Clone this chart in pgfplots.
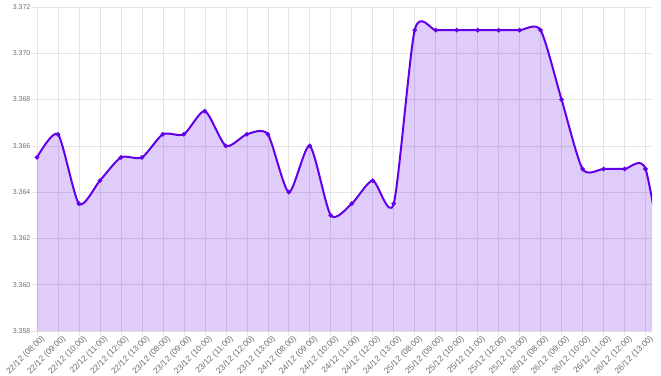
\documentclass[border=0pt]{standalone}
\usepackage{pgfplots}
\pgfplotsset{compat=1.18}
\usepackage{fontspec}
\setmainfont{Liberation Sans}
\definecolor{lineC}{RGB}{98,0,234}
\definecolor{gridC}{RGB}{228,228,228}
\definecolor{labC}{RGB}{110,110,110}
\begin{document}
\begin{tikzpicture}
\begin{axis}[
  scale only axis,
  width=615bp, height=324bp,
  xmin=0, xmax=29.31,
  ymin=3.358, ymax=3.372,
  ytick={3.358,3.360,3.362,3.364,3.366,3.368,3.370,3.372},
  yticklabel style={/pgf/number format/fixed,/pgf/number format/fixed zerofill,/pgf/number format/precision=3,font=\fontsize{7}{8}\selectfont,text=labC,inner sep=1.5bp},
  /pgf/number format/assume math mode=true,
  scaled y ticks=false,
  xtick={0,...,29},
  xticklabels={{22/12 (08:00)},{22/12 (09:00)},{22/12 (10:00)},{22/12 (11:00)},{22/12 (12:00)},{22/12 (13:00)},
    {23/12 (08:00)},{23/12 (09:00)},{23/12 (10:00)},{23/12 (11:00)},{23/12 (12:00)},{23/12 (13:00)},
    {24/12 (08:00)},{24/12 (09:00)},{24/12 (10:00)},{24/12 (11:00)},{24/12 (12:00)},{24/12 (13:00)},
    {25/12 (08:00)},{25/12 (09:00)},{25/12 (10:00)},{25/12 (11:00)},{25/12 (12:00)},{25/12 (13:00)},
    {26/12 (08:00)},{26/12 (09:00)},{26/12 (10:00)},{26/12 (11:00)},{26/12 (12:00)},{26/12 (13:00)}},
  xticklabel style={rotate=45,anchor=north east,font=\fontsize{8.4}{9}\selectfont,text=labC,inner sep=0.5bp,xshift=4bp,yshift=-1bp},
  grid=major,
  grid style={gridC,line width=0.6pt},
  axis x line*=bottom, axis y line*=left,
  axis line style={gridC,line width=0.8pt,-},
  tick align=outside,
  major tick length=5bp,
  tick style={gridC,line width=0.6pt},
  clip=true,
]
\addplot[draw=none,fill=lineC,fill opacity=0.2,smooth,tension=0.42] coordinates {
(0,3.3655)(1,3.3665)(2,3.3635)(3,3.3645)(4,3.3655)(5,3.3655)
(6,3.3665)(7,3.3665)(8,3.3675)(9,3.3660)(10,3.3665)(11,3.3665)
(12,3.3640)(13,3.3660)(14,3.3630)(15,3.3635)(16,3.3645)(17,3.3635)
(18,3.3710)(19,3.3710)(20,3.3710)(21,3.3710)(22,3.3710)(23,3.3710)
(24,3.3710)(25,3.3680)(26,3.3650)(27,3.3650)(28,3.3650)(29,3.3650)
(30,3.3600)} \closedcycle;
\addplot[lineC,line width=2bp,smooth,tension=0.42,mark=*,mark size=1.1pt,mark options={lineC}] coordinates {
(0,3.3655)(1,3.3665)(2,3.3635)(3,3.3645)(4,3.3655)(5,3.3655)
(6,3.3665)(7,3.3665)(8,3.3675)(9,3.3660)(10,3.3665)(11,3.3665)
(12,3.3640)(13,3.3660)(14,3.3630)(15,3.3635)(16,3.3645)(17,3.3635)
(18,3.3710)(19,3.3710)(20,3.3710)(21,3.3710)(22,3.3710)(23,3.3710)
(24,3.3710)(25,3.3680)(26,3.3650)(27,3.3650)(28,3.3650)(29,3.3650)
(30,3.3600)};
\end{axis}
\pgfresetboundingbox
\path (current axis.south west) ++(-37bp,-45bp) coordinate (bbA);
\path (current axis.north east) ++(9bp,7bp) coordinate (bbB);
\useasboundingbox (bbA) rectangle (bbB);
\end{tikzpicture}
\end{document}
